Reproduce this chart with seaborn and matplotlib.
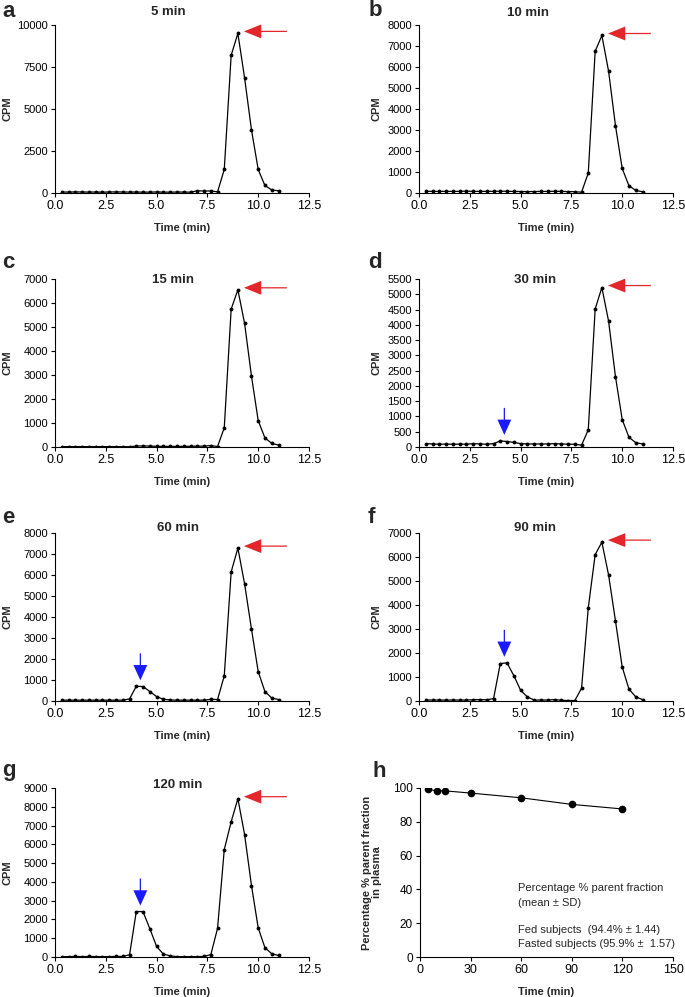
import matplotlib
matplotlib.use('Agg')
import matplotlib.pyplot as plt
import matplotlib.transforms as mtransforms
from matplotlib.ticker import FormatStrFormatter, MultipleLocator
import seaborn as sns

# retention time grid (min), one fraction every 20 s
TIMES = [0.33, 0.67, 1.00, 1.33, 1.67, 2.00, 2.33, 2.67, 3.00, 3.33, 3.67,
         4.00, 4.33, 4.67, 5.00, 5.33, 5.67, 6.00, 6.33, 6.67, 7.00, 7.33,
         7.67, 8.00, 8.33, 8.67, 9.00, 9.33, 9.67, 10.00, 10.33, 10.67, 11.00]

CPM_5 = [60, 55, 65, 60, 55, 60, 50, 60, 65, 60, 55, 60, 50, 55, 60, 55, 50,
         60, 55, 50, 130, 120, 120, 70, 1400, 8200, 9500, 6850, 3750, 1400,
         450, 180, 130]
CPM_10 = [80, 80, 75, 80, 75, 80, 85, 80, 75, 80, 80, 85, 80, 75, 70, 70, 70,
          75, 75, 80, 75, 70, 60, 40, 950, 6750, 7500, 5800, 3200, 1170, 350,
          120, 60]
CPM_15 = [15, 15, 15, 15, 15, 15, 15, 15, 15, 15, 10, 40, 45, 40, 30, 25, 25,
          25, 25, 30, 35, 35, 60, 20, 800, 5750, 6550, 5150, 2950, 1100, 380,
          150, 80]
CPM_30 = [110, 100, 90, 95, 90, 95, 90, 110, 100, 90, 110, 200, 180, 150, 110,
          100, 100, 100, 100, 110, 100, 90, 90, 60, 560, 4520, 5220, 4120,
          2300, 900, 320, 140, 100]
CPM_60 = [40, 40, 40, 40, 40, 40, 40, 40, 40, 40, 100, 700, 690, 450, 210, 80,
          50, 40, 40, 40, 40, 40, 80, 70, 1200, 6150, 7280, 5580, 3420, 1400,
          450, 140, 70]
CPM_90 = [40, 40, 40, 40, 40, 40, 40, 50, 60, 50, 100, 1560, 1590, 1050, 450,
          170, 40, 40, 40, 60, 30, 20, 20, 530, 3880, 6100, 6620, 5250, 3330,
          1420, 500, 170, 60]
CPM_120 = [20, 20, 30, 20, 30, 25, 20, 20, 30, 30, 120, 2420, 2420, 1500, 560,
           160, 60, 20, 20, 20, 20, 30, 130, 1530, 5720, 7200, 8430, 6520,
           3800, 1550, 500, 170, 80]

PANEL_LETTERS = ['a', 'b', 'c', 'd', 'e', 'f', 'g']
PANEL_TITLES = ['5 min', '10 min', '15 min', '30 min', '60 min', '90 min', '120 min']
PANEL_DATA = [CPM_5, CPM_10, CPM_15, CPM_30, CPM_60, CPM_90, CPM_120]
PANEL_YMAX = [10000, 8000, 7000, 5500, 8000, 7000, 9000]
PANEL_YSTEP = [2500, 1000, 1000, 500, 1000, 1000, 1000]
HAS_METABOLITE = [False, False, False, True, True, True, True]

# parent fraction in plasma
SAMPLE_TIMES = [5, 10, 15, 30, 60, 90, 120]
PARENT_PCT = [99.2, 98.3, 98.3, 97.0, 94.2, 90.3, 87.6]

RED = '#e3262b'
BLUE = '#1a1aff'
W, H = 685, 997

sns.set_style('ticks')
plt.rcParams['font.family'] = ['Liberation Sans', 'DejaVu Sans']
plt.rcParams['axes.linewidth'] = 0.8
plt.rcParams['xtick.major.size'] = 3
plt.rcParams['ytick.major.size'] = 3
plt.rcParams['xtick.major.width'] = 0.8
plt.rcParams['ytick.major.width'] = 0.8
plt.rcParams['xtick.labelsize'] = 9
plt.rcParams['ytick.labelsize'] = 8

fig = plt.figure(figsize=(W / 100, H / 100), dpi=100)


def px_axes(left, top, right, bottom):
  return fig.add_axes([left / W, 1 - bottom / H, (right - left) / W, (bottom - top) / H])


def style_axes(ax):
  sns.despine(ax=ax)
  for s in ['left', 'bottom']:
    ax.spines[s].set_color('black')
  ax.tick_params(colors='black', pad=2)


# pixel boxes of the seven chromatograms
COL_X = [(55, 309), (419, 673)]
ROW_Y = [(25, 193), (279, 447), (533, 701), (788, 957)]
TITLE_POS = [(168, 15), (528, 16), (173, 283), (535, 283), (178, 531), (535, 531), (178, 788)]
LETTER_POS = [(2, 17), (369, 16), (2, 268), (368, 268), (2, 523), (368, 523), (2, 776)]

for i, cpm in enumerate(PANEL_DATA):
  col = i % 2
  row = i // 2
  ax = px_axes(COL_X[col][0], ROW_Y[row][0], COL_X[col][1], ROW_Y[row][1])
  sns.lineplot(x=TIMES, y=cpm, ax=ax, color='black', linewidth=0.9,
               marker='o', markersize=2.8, markeredgewidth=0)
  ax.set_xlim(0, 12.5)
  ax.set_ylim(0, PANEL_YMAX[i])
  ax.xaxis.set_major_locator(MultipleLocator(2.5))
  ax.xaxis.set_major_formatter(FormatStrFormatter('%.1f'))
  ax.yaxis.set_major_locator(MultipleLocator(PANEL_YSTEP[i]))
  style_axes(ax)
  ax.set_ylabel('CPM', fontsize=8, fontweight='bold')
  ax.yaxis.set_label_coords(-0.169 if col == 0 else -0.146, 0.5)
  ax.set_xlabel('Time (min)', fontsize=8, fontweight='bold', labelpad=8)

  # red arrow: parent compound peak
  k = cpm.index(max(cpm))
  tip = mtransforms.offset_copy(ax.transData, fig=fig, x=6, y=2, units='dots')
  ax.annotate('', xy=(TIMES[k], cpm[k]), xycoords=tip,
              xytext=(43, 0), textcoords='offset pixels',
              arrowprops=dict(width=0.9, headwidth=10, headlength=12.5,
                              shrink=0, color=RED, lw=0))

  # blue arrow: radiometabolite
  if HAS_METABOLITE[i]:
    m = max(cpm[11], cpm[12])
    tip_b = mtransforms.offset_copy(ax.transData, fig=fig, x=0, y=6, units='dots')
    ax.annotate('', xy=(4.2, m), xycoords=tip_b,
                xytext=(0, 27), textcoords='offset pixels',
                arrowprops=dict(width=0.9, headwidth=10, headlength=11,
                                shrink=0, color=BLUE, lw=0))

  tx, ty = TITLE_POS[i]
  fig.text(tx / W, 1 - ty / H, PANEL_TITLES[i], ha='center', va='baseline',
           fontsize=9.5, fontweight='bold')
  lx, ly = LETTER_POS[i]
  fig.text(lx / W, 1 - ly / H, PANEL_LETTERS[i], ha='left', va='baseline',
           fontsize=16, fontweight='bold')

# panel h
ax = px_axes(420, 788, 673, 957)
sns.lineplot(x=SAMPLE_TIMES, y=PARENT_PCT, ax=ax, color='black', linewidth=0.8,
             marker='o', markersize=5.5, markeredgewidth=0)
ax.set_xlim(0, 150)
ax.set_ylim(0, 100)
ax.xaxis.set_major_locator(MultipleLocator(30))
ax.yaxis.set_major_locator(MultipleLocator(20))
style_axes(ax)
ax.tick_params(axis='y', labelsize=8.5)
ax.set_ylabel('Percentage % parent fraction\nin plasma', fontsize=8, fontweight='bold',
              linespacing=1.0)
ax.yaxis.set_label_coords(-0.150, 0.5)
ax.set_xlabel('Time (min)', fontsize=8, fontweight='bold', labelpad=8)

ax.text(58, 39, 'Percentage % parent fraction', fontsize=8, va='baseline')
ax.text(58, 30, '(mean \u00b1 SD)', fontsize=8, va='baseline')
ax.text(58, 14, 'Fed subjects  (94.4% \u00b1 1.44)', fontsize=8, va='baseline')
ax.text(58, 5.8, 'Fasted subjects (95.9% \u00b1  1.57)', fontsize=8, va='baseline')

fig.text(373 / W, 1 - 777 / H, 'h', ha='left', va='baseline', fontsize=16, fontweight='bold')

fig.savefig('out.png', dpi=100)
